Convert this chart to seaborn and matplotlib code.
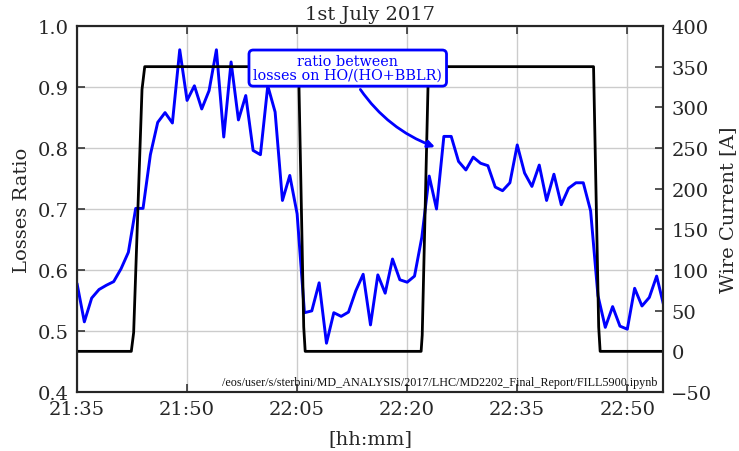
import numpy as np
import pandas as pd
import matplotlib
matplotlib.use("Agg")
import matplotlib.pyplot as plt
import matplotlib.dates as mdates
import seaborn as sns

# ---------------- data ----------------
start = pd.Timestamp("2017-07-01 21:35:00")

ratio_minutes = list(range(0, 81))
ratio_values = [
    0.578, 0.515, 0.554, 0.568, 0.575, 0.581, 0.602, 0.629, 0.701, 0.701,
    0.789, 0.842, 0.858, 0.841, 0.961, 0.878, 0.902, 0.864, 0.894, 0.961,
    0.818, 0.941, 0.846, 0.886, 0.796, 0.789, 0.902, 0.859, 0.714, 0.755,
    0.692, 0.530, 0.533, 0.579, 0.480, 0.530, 0.524, 0.531, 0.566, 0.593,
    0.510, 0.592, 0.562, 0.618, 0.584, 0.580, 0.590, 0.654, 0.754, 0.700,
    0.819, 0.819, 0.778, 0.764, 0.785, 0.775, 0.771, 0.736, 0.730, 0.743,
    0.805, 0.759, 0.737, 0.772, 0.714, 0.757, 0.707, 0.734, 0.743, 0.743,
    0.697, 0.558, 0.506, 0.540, 0.508, 0.503, 0.570, 0.541, 0.555, 0.590,
    0.540,
]

current_minutes = [0.0, 7.4, 7.72, 8.86, 9.23, 30.2, 30.9, 31.1,
                   46.9, 47.05, 47.85, 48.0, 70.4, 71.1, 71.3, 80.0]
current_values = [0, 0, 23, 322, 350, 350, 30, 0,
                  0, 20, 330, 350, 350, 30, 0, 0]

left_ticks = [0.4, 0.5, 0.6, 0.7, 0.8, 0.9, 1.0]
right_ticks = [-50, 0, 50, 100, 150, 200, 250, 300, 350, 400]

title = "1st July 2017"
xlabel = "[hh:mm]"
ylabel_left = "Losses Ratio"
ylabel_right = "Wire Current [A]"
note = "ratio between\nlosses on HO/(HO+BBLR)"
footnote = "/eos/user/s/sterbini/MD_ANALYSIS/2017/LHC/MD2202_Final_Report/FILL5900.ipynb"

df_ratio = pd.DataFrame({
    "time": [start + pd.Timedelta(minutes=m) for m in ratio_minutes],
    "ratio": ratio_values,
})
df_cur = pd.DataFrame({
    "time": [start + pd.Timedelta(minutes=m) for m in current_minutes],
    "current": current_values,
})

# ---------------- style ----------------
sns.set_theme(style="whitegrid")
dark = "#262626"
fs = 14
plt.rcParams.update({
    "font.family": ["DejaVu Serif", "DejaVu Sans"],
    "axes.unicode_minus": True,
    "xtick.direction": "in", "ytick.direction": "in",
    "xtick.bottom": True, "xtick.top": True,
    "ytick.left": True, "ytick.right": True,
    "xtick.major.size": 6, "ytick.major.size": 6,
    "xtick.major.width": 1.1, "ytick.major.width": 1.1,
    "xtick.color": dark, "ytick.color": dark,
})

fig = plt.figure(figsize=(7.39, 4.52), dpi=100)
ax = fig.add_axes([0.1042, 0.1305, 0.7929, 0.8098])

sns.lineplot(data=df_ratio, x="time", y="ratio", ax=ax, color="blue",
             linewidth=2.1, legend=False)
ax2 = ax.twinx()
sns.lineplot(data=df_cur, x="time", y="current", ax=ax2, color="black",
             linewidth=2.0, legend=False)

xmin = start
xmax = start + pd.Timedelta(minutes=79.86)
ax.set_xlim(xmin, xmax)
ax.set_ylim(0.4, 1.0)
ax2.set_ylim(-50, 400)
ax.set_yticks(left_ticks)
ax.set_yticklabels([f"{v:.1f}" for v in left_ticks])
ax2.set_yticks(right_ticks)

ax.xaxis.set_major_locator(mdates.MinuteLocator(byminute=[5, 20, 35, 50]))
ax.xaxis.set_major_formatter(mdates.DateFormatter("%H:%M"))

ax.grid(True, color="#cccccc", linewidth=1.0)
ax2.grid(False)

ax.tick_params(axis="both", which="major", direction="in", length=6,
               width=1.1, color=dark, labelsize=fs, labelcolor=dark,
               bottom=True, top=True, left=True, right=False, pad=6)
ax2.tick_params(axis="y", which="major", direction="in", length=6,
                width=1.1, color=dark, labelsize=fs, labelcolor=dark,
                right=True, left=False, pad=6)
for t in ax2.yaxis.get_major_ticks():
    t.tick2line.set_visible(True)
    t.tick2line.set_markersize(6)
    t.tick2line.set_markeredgewidth(1.1)
    t.tick2line.set_color(dark)

for a in (ax, ax2):
    for s in a.spines.values():
        s.set_color(dark)
        s.set_linewidth(1.5)

ax.set_title(title, fontsize=fs, color=dark, pad=5)
ax.set_xlabel(xlabel, fontsize=fs, color=dark, labelpad=8)
ax.set_ylabel(ylabel_left, fontsize=fs, color=dark, labelpad=5)
ax2.set_ylabel(ylabel_right, fontsize=fs, color=dark, labelpad=5)

# annotation (drawn on the twin axes so that it sits above the current line)
xy = (mdates.date2num(start + pd.Timedelta(minutes=49.15)), 0.80)
xytext = (mdates.date2num(start + pd.Timedelta(minutes=36.9)), 0.931)
ax2.annotate(note, xy=xy, xycoords=ax.transData, xytext=xytext,
             textcoords=ax.transData, ha="center", va="center",
             fontsize=10.4, color="blue", multialignment="center",
             linespacing=0.95,
             bbox=dict(boxstyle="round,pad=0.3", fc="white", ec="blue", lw=2),
             arrowprops=dict(arrowstyle="-|>", connectionstyle="arc3,rad=0.2",
                             color="blue", lw=2), zorder=10)

ax2.text(0.99, 0.012, footnote, transform=ax2.transAxes, ha="right",
         va="bottom", fontsize=8.7, family="Liberation Serif", color="#111111")

fig.savefig("out.png", dpi=100)
